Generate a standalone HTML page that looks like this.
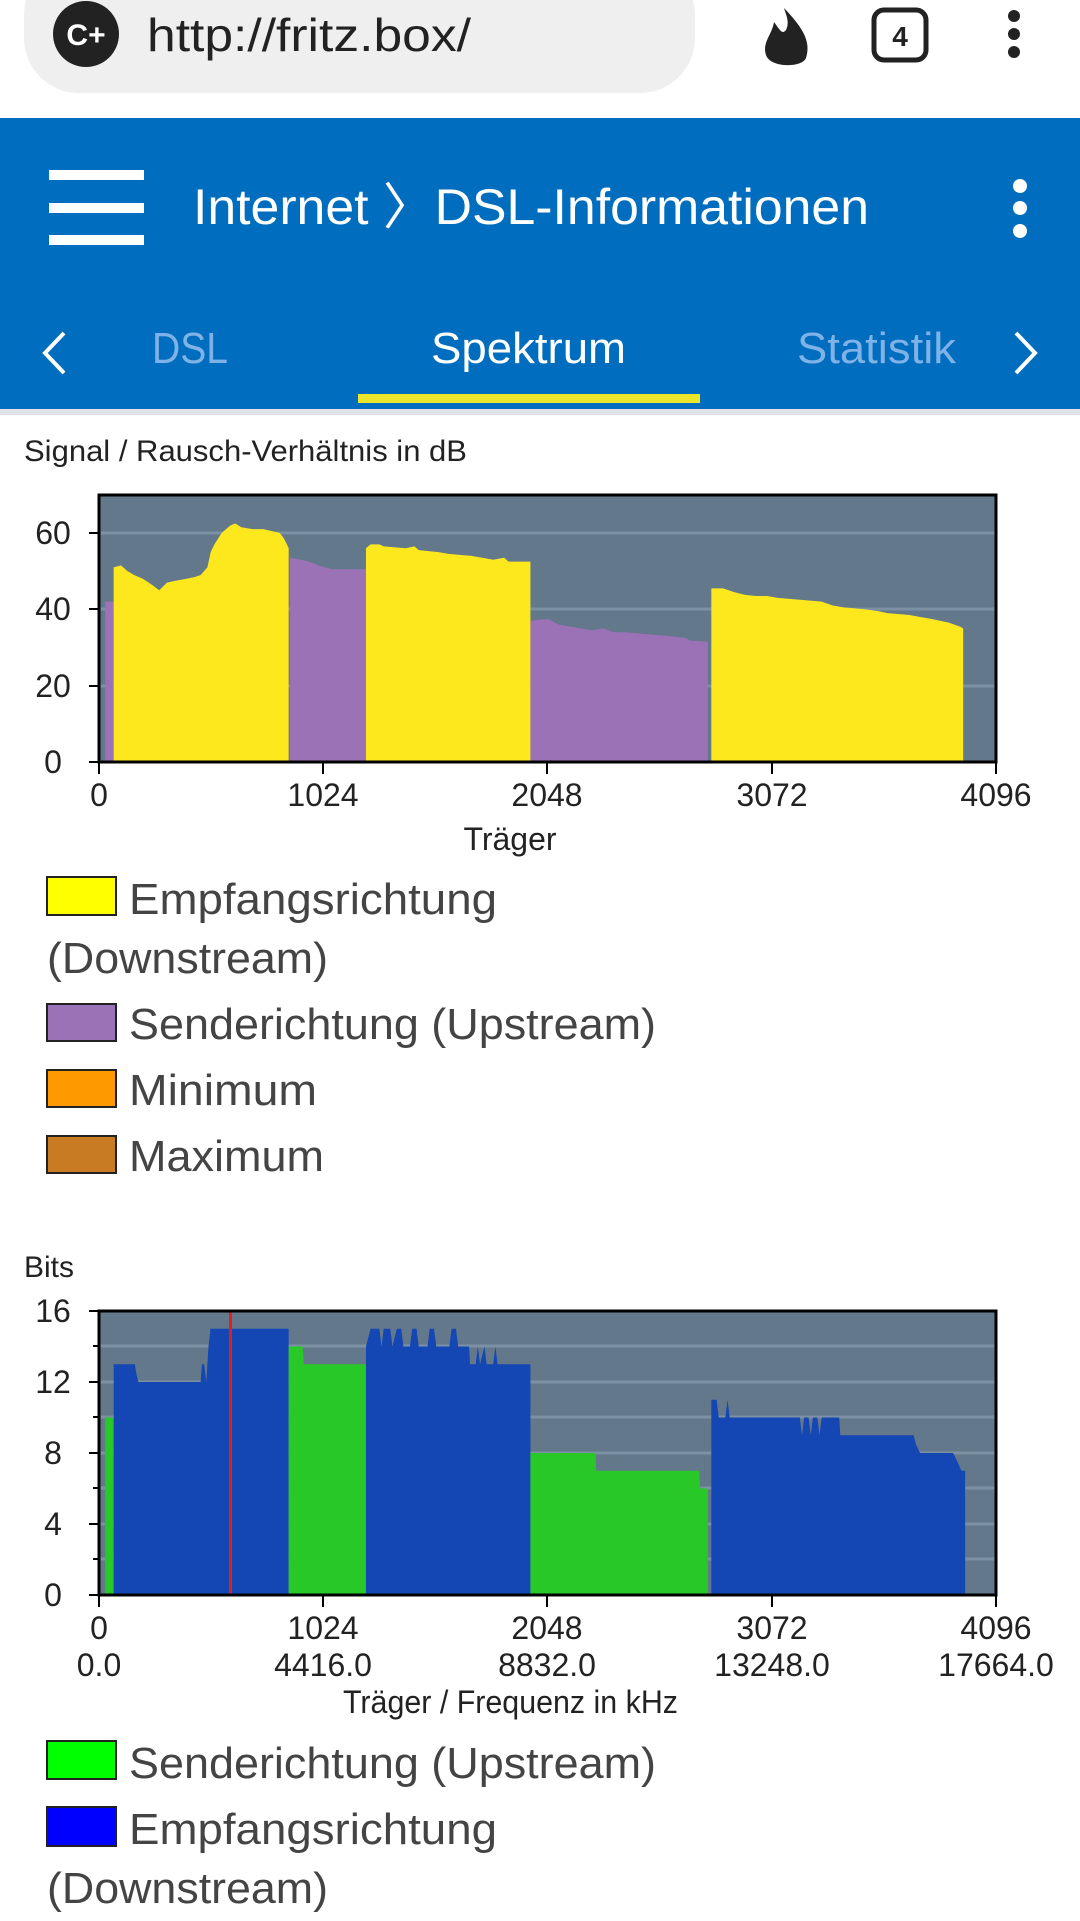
<!DOCTYPE html>
<html><head><meta charset="utf-8"><style>
html,body{margin:0;padding:0;background:#fff;width:1080px;height:1921px;overflow:hidden}
svg{display:block}
text{font-family:"Liberation Sans",sans-serif}
</style></head><body>
<svg width="1080" height="1921" viewBox="0 0 1080 1921" xmlns="http://www.w3.org/2000/svg">
<rect x="0" y="0" width="1080" height="118" fill="#fff"/>
<rect x="24" y="-40" width="671" height="133" rx="55" fill="#efefef"/>
<circle cx="86" cy="34" r="33" fill="#222"/>
<text x="86" y="45" font-size="30" font-weight="bold" fill="#fff" text-anchor="middle">C+</text>
<text x="147" y="51" font-size="46" fill="#222" textLength="324" lengthAdjust="spacingAndGlyphs">http://fritz.box/</text>
<path d="M784 8 C800 25 812 40 806 58 C802 68 770 68 766 55 C762 42 772 35 774 22 C780 30 782 35 786 30 C790 22 786 15 784 8Z" fill="#222"/>
<rect x="874" y="10" width="52" height="50" rx="10" fill="none" stroke="#222" stroke-width="5"/>
<text x="900" y="46" font-size="28" font-weight="bold" fill="#222" text-anchor="middle">4</text>
<circle cx="1014" cy="16" r="6" fill="#222"/><circle cx="1014" cy="34" r="6" fill="#222"/><circle cx="1014" cy="52" r="6" fill="#222"/>
<rect x="0" y="118" width="1080" height="291" fill="#016dbe"/>
<rect x="0" y="409" width="1080" height="6" fill="#dfe3e8"/>
<rect x="49" y="170" width="95" height="10" fill="#fff"/>
<rect x="49" y="203" width="95" height="10" fill="#fff"/>
<rect x="49" y="235" width="95" height="10" fill="#fff"/>
<text x="193" y="224" font-size="50" fill="#fff" textLength="676" lengthAdjust="spacingAndGlyphs">Internet 〉DSL-Informationen</text>
<circle cx="1020" cy="186" r="7" fill="#fff"/><circle cx="1020" cy="208" r="7" fill="#fff"/><circle cx="1020" cy="231" r="7" fill="#fff"/>
<path d="M64 333 L45 353 L64 373" fill="none" stroke="#fff" stroke-width="4"/>
<path d="M1016 333 L1035 353 L1016 373" fill="none" stroke="#fff" stroke-width="4"/>
<text x="152" y="363" font-size="44" fill="#7fb2e6" textLength="76" lengthAdjust="spacingAndGlyphs">DSL</text>
<text x="431" y="363" font-size="44" fill="#fff" textLength="195" lengthAdjust="spacingAndGlyphs">Spektrum</text>
<text x="797" y="363" font-size="44" fill="#7fb2e6" textLength="159" lengthAdjust="spacingAndGlyphs">Statistik</text>
<rect x="358" y="394" width="342" height="9" fill="#ebe629"/>

<text x="24" y="461" font-size="30" fill="#222" textLength="443" lengthAdjust="spacingAndGlyphs">Signal / Rausch-Verhältnis in dB</text>
<rect x="99" y="495" width="897" height="267" fill="#64788c"/>
<g stroke="#7d91a4" stroke-width="3">
<line x1="99" y1="533" x2="996" y2="533"/><line x1="99" y1="609" x2="996" y2="609"/><line x1="99" y1="686" x2="996" y2="686"/>
</g>
<g transform="translate(99,762) scale(0.219,-3.817)">
<polygon fill="#9b72b6" points="28,0 28,42 67,42 67,0"/>
<polygon fill="#fde81e" points="67,0 67,51 100,51.5 130,50 160,49 200,48 240,46.5 275,45 310,47 350,47.5 400,48 440,48.5 464,49 495,51 510,55 527,57 560,60 600,62 622,62.5 650,61.5 700,61 749,61 790,60.5 826,60 845,58.5 858,57 866,56 866,0"/>
<polygon fill="#9b72b6" points="872,0 872,53.5 920,53 960,52.5 1000,51.5 1063,50.5 1219,50.5 1219,0"/>
<polygon fill="#fde81e" points="1219,0 1219,56 1240,57 1280,57 1300,56.5 1400,56 1440,56.5 1460,55.5 1550,55 1600,54.5 1700,54 1750,53.5 1800,53 1850,53.5 1870,52.5 1970,52.5 1970,0"/>
<polygon fill="#9b72b6" points="1970,0 1970,37 2050,37.5 2100,36 2150,35.5 2200,35 2250,34.5 2300,35 2350,34 2400,34 2500,33.5 2600,33 2680,32.5 2700,31.8 2780,31.5 2780,0"/>
<polygon fill="#fde81e" points="2796,0 2796,45.5 2850,45.5 2900,44.5 2950,43.8 3000,43.5 3050,43.5 3100,43 3200,42.5 3300,42 3350,41 3400,40.5 3500,40 3560,39.5 3600,39 3700,38.5 3750,38 3800,37.5 3880,36.5 3930,35.5 3946,35 3946,0"/>
</g>
<rect x="99" y="495" width="897" height="267" fill="none" stroke="#000" stroke-width="3"/>
<g stroke="#000" stroke-width="2">
<line x1="89" y1="533" x2="99" y2="533"/><line x1="89" y1="609" x2="99" y2="609"/><line x1="89" y1="686" x2="99" y2="686"/><line x1="89" y1="762" x2="99" y2="762"/>
<line x1="99" y1="762" x2="99" y2="774"/><line x1="323" y1="762" x2="323" y2="774"/><line x1="547" y1="762" x2="547" y2="774"/><line x1="772" y1="762" x2="772" y2="774"/><line x1="996" y1="762" x2="996" y2="774"/>
</g>
<g font-size="32" fill="#222">
<text x="53" y="544" text-anchor="middle">60</text><text x="53" y="620" text-anchor="middle">40</text><text x="53" y="697" text-anchor="middle">20</text><text x="53" y="773" text-anchor="middle">0</text>
<text x="99" y="806" text-anchor="middle">0</text><text x="323" y="806" text-anchor="middle">1024</text><text x="547" y="806" text-anchor="middle">2048</text><text x="772" y="806" text-anchor="middle">3072</text><text x="996" y="806" text-anchor="middle">4096</text>
<text x="510" y="850" text-anchor="middle">Träger</text>
</g>
<g stroke="#222" stroke-width="2">
<rect x="47" y="877" width="69" height="38" fill="#ffff00"/>
<rect x="47" y="1004" width="69" height="37" fill="#9b72b6"/>
<rect x="47" y="1070" width="69" height="37" fill="#ff9900"/>
<rect x="47" y="1136" width="69" height="37" fill="#c87b22"/>
</g>
<g font-size="44" fill="#444">
<text x="129" y="914" textLength="368" lengthAdjust="spacingAndGlyphs">Empfangsrichtung</text>
<text x="47" y="973" textLength="281" lengthAdjust="spacingAndGlyphs">(Downstream)</text>
<text x="129" y="1039" textLength="527" lengthAdjust="spacingAndGlyphs">Senderichtung (Upstream)</text>
<text x="129" y="1105" textLength="188" lengthAdjust="spacingAndGlyphs">Minimum</text>
<text x="129" y="1171" textLength="195" lengthAdjust="spacingAndGlyphs">Maximum</text>
</g>

<text x="24" y="1277" font-size="30" fill="#222">Bits</text>
<rect x="99" y="1311" width="897" height="284" fill="#64788c"/>
<g stroke="#7d91a4" stroke-width="3">
<line x1="99" y1="1346" x2="996" y2="1346"/><line x1="99" y1="1382" x2="996" y2="1382"/><line x1="99" y1="1417" x2="996" y2="1417"/><line x1="99" y1="1453" x2="996" y2="1453"/><line x1="99" y1="1488" x2="996" y2="1488"/><line x1="99" y1="1524" x2="996" y2="1524"/><line x1="99" y1="1559" x2="996" y2="1559"/>
</g>
<g transform="translate(99,1595) scale(0.219,-17.75)">
<polygon fill="#28c828" points="28,0 28,10 67,10 67,0"/>
<polygon fill="#1446b4" points="67,0 67,13 164,13 170,12.5 180,12 464,12 470,13 480,13 490,12 500,14 509,15 858,15 866,15 866,0"/>
<polygon fill="#28c828" points="866,0 866,14 930,14 935,13 1219,13 1219,0"/>
<polygon fill="#1446b4" points="1219,0 1219,14 1240,15 1280,15 1290,14 1300,15 1330,15 1340,14 1360,15 1380,15 1390,14 1420,14 1430,15 1450,15 1460,14 1500,14 1510,15 1530,15 1540,14 1600,14 1610,15 1630,15 1640,14 1690,14 1694,13 1720,13 1730,14 1740,13 1760,14 1770,13 1800,13 1810,14 1820,13 1970,13 1970,0"/>
<polygon fill="#28c828" points="1970,0 1970,8 2268,8 2270,7 2741,7 2745,6 2780,6 2780,0"/>
<polygon fill="#1446b4" points="2796,0 2796,11 2820,11 2830,10 2860,10 2870,11 2880,10 3200,10 3210,9 3220,10 3240,10 3250,9 3260,10 3280,10 3290,9 3300,10 3380,10 3385,9 3700,9 3720,9 3730,8.5 3749,8 3900,8 3920,7.5 3938,7 3955,7 3955,0"/>
</g>
<line x1="230.5" y1="1311" x2="230.5" y2="1595" stroke="#e02020" stroke-width="3"/>
<rect x="99" y="1311" width="897" height="284" fill="none" stroke="#000" stroke-width="3"/>
<g stroke="#000" stroke-width="2">
<line x1="89" y1="1311" x2="99" y2="1311"/><line x1="89" y1="1382" x2="99" y2="1382"/><line x1="89" y1="1453" x2="99" y2="1453"/><line x1="89" y1="1524" x2="99" y2="1524"/><line x1="89" y1="1595" x2="99" y2="1595"/>
<line x1="93" y1="1346" x2="99" y2="1346"/><line x1="93" y1="1417" x2="99" y2="1417"/><line x1="93" y1="1488" x2="99" y2="1488"/><line x1="93" y1="1559" x2="99" y2="1559"/>
<line x1="99" y1="1595" x2="99" y2="1607"/><line x1="323" y1="1595" x2="323" y2="1607"/><line x1="547" y1="1595" x2="547" y2="1607"/><line x1="772" y1="1595" x2="772" y2="1607"/><line x1="996" y1="1595" x2="996" y2="1607"/>
</g>
<g font-size="32" fill="#222">
<text x="53" y="1322" text-anchor="middle">16</text><text x="53" y="1393" text-anchor="middle">12</text><text x="53" y="1464" text-anchor="middle">8</text><text x="53" y="1535" text-anchor="middle">4</text><text x="53" y="1606" text-anchor="middle">0</text>
<text x="99" y="1639" text-anchor="middle">0</text><text x="323" y="1639" text-anchor="middle">1024</text><text x="547" y="1639" text-anchor="middle">2048</text><text x="772" y="1639" text-anchor="middle">3072</text><text x="996" y="1639" text-anchor="middle">4096</text>
<text x="99" y="1676" text-anchor="middle">0.0</text><text x="323" y="1676" text-anchor="middle">4416.0</text><text x="547" y="1676" text-anchor="middle">8832.0</text><text x="772" y="1676" text-anchor="middle">13248.0</text><text x="996" y="1676" text-anchor="middle">17664.0</text>
<text x="343" y="1713" textLength="335" lengthAdjust="spacingAndGlyphs">Träger / Frequenz in kHz</text>
</g>
<g stroke="#222" stroke-width="2">
<rect x="47" y="1741" width="69" height="38" fill="#00ff00"/>
<rect x="47" y="1807" width="69" height="39" fill="#0000ff"/>
</g>
<g font-size="44" fill="#444">
<text x="129" y="1778" textLength="527" lengthAdjust="spacingAndGlyphs">Senderichtung (Upstream)</text>
<text x="129" y="1844" textLength="368" lengthAdjust="spacingAndGlyphs">Empfangsrichtung</text>
<text x="47" y="1903" textLength="281" lengthAdjust="spacingAndGlyphs">(Downstream)</text>
</g>
</svg>
</body></html>
